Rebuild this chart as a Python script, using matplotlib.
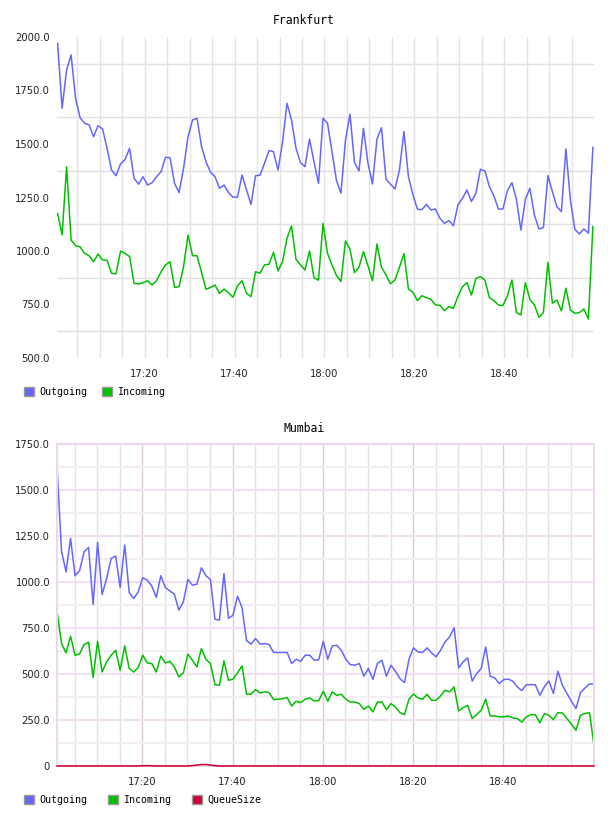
import matplotlib
matplotlib.use('Agg')
import pandas as pd
from matplotlib import pyplot as plt
import matplotlib.dates as mdates
from matplotlib.patches import Patch
from matplotlib.ticker import MultipleLocator, FuncFormatter


# one sample per minute
frankfurt_out = [1970, 1667, 1846, 1916, 1713, 1623, 1597, 1589, 1534, 1586,
                 1570, 1480, 1378, 1352, 1407, 1428, 1480, 1340, 1312, 1347,
                 1308, 1319, 1347, 1371, 1438, 1436, 1316, 1273, 1386, 1534,
                 1612, 1620, 1488, 1417, 1368, 1347, 1293, 1308, 1273, 1251,
                 1252, 1355, 1285, 1218, 1352, 1354, 1410, 1469, 1464, 1378,
                 1508, 1690, 1612, 1480, 1413, 1394, 1523, 1417, 1316, 1620,
                 1597, 1464, 1329, 1270, 1519, 1639, 1414, 1374, 1573, 1410,
                 1313, 1523, 1576, 1336, 1312, 1290, 1379, 1558, 1347, 1262,
                 1195, 1193, 1218, 1192, 1196, 1153, 1129, 1142, 1118, 1215,
                 1246, 1285, 1231, 1270, 1382, 1374, 1301, 1257, 1196, 1196,
                 1282, 1319, 1243, 1098, 1243, 1293, 1168, 1103, 1109, 1352,
                 1277, 1207, 1184, 1477, 1238, 1101, 1080, 1103, 1083, 1484]

frankfurt_in = [1176, 1075, 1394, 1051, 1025, 1019, 989, 978, 950, 986,
                958, 956, 896, 893, 1000, 989, 974, 849, 846, 852,
                861, 841, 861, 903, 935, 950, 830, 833, 927, 1075,
                978, 978, 900, 821, 830, 841, 802, 822, 805, 784,
                838, 861, 802, 787, 903, 896, 935, 938, 994, 907,
                950, 1059, 1117, 961, 935, 911, 1000, 875, 864, 1129,
                989, 935, 885, 857, 1047, 1008, 899, 924, 997, 931,
                861, 1033, 924, 888, 847, 864, 924, 988, 822, 807,
                768, 791, 782, 774, 748, 746, 721, 740, 732, 787,
                833, 852, 794, 872, 880, 864, 782, 768, 748, 745,
                791, 864, 712, 701, 852, 774, 748, 690, 712, 947,
                756, 771, 720, 826, 724, 709, 712, 729, 682, 1114]

mumbai_out = [1630, 1168, 1055, 1237, 1034, 1061, 1164, 1188, 878, 1215,
              932, 1019, 1128, 1141, 970, 1201, 943, 910, 947, 1023,
              1010, 979, 916, 1034, 970, 952, 934, 847, 892, 1014,
              983, 988, 1077, 1034, 1014, 798, 793, 1046, 802, 820,
              923, 861, 682, 662, 693, 662, 666, 660, 617, 617,
              617, 617, 557, 580, 569, 602, 602, 575, 577, 678,
              580, 653, 656, 629, 580, 551, 548, 557, 488, 530,
              471, 557, 575, 488, 548, 515, 475, 453, 580, 642,
              620, 617, 642, 615, 593, 629, 675, 702, 751, 533,
              566, 588, 461, 502, 530, 647, 488, 479, 448, 470,
              472, 461, 430, 410, 442, 442, 442, 384, 430, 462,
              394, 515, 439, 394, 352, 312, 399, 424, 446, 444]

mumbai_in = [841, 666, 615, 705, 602, 609, 660, 673, 481, 678,
             511, 566, 602, 629, 520, 653, 530, 511, 535, 602,
             560, 557, 511, 597, 560, 569, 539, 484, 506, 608,
             575, 539, 638, 580, 557, 442, 439, 571, 466, 472,
             506, 544, 390, 390, 415, 397, 403, 399, 361, 363,
             366, 372, 326, 352, 345, 363, 370, 354, 355, 406,
             352, 403, 384, 390, 363, 348, 348, 339, 308, 326,
             294, 348, 348, 306, 339, 321, 290, 279, 363, 390,
             370, 363, 390, 357, 357, 381, 412, 403, 430, 299,
             317, 330, 258, 279, 303, 363, 272, 272, 267, 267,
             272, 261, 258, 239, 267, 279, 279, 234, 285, 276,
             252, 290, 288, 258, 227, 194, 276, 285, 290, 112]

mumbai_queue = [0, 0, 0, 0, 0, 0, 0, 0, 0, 0, 0, 0, 0, 0, 0, 0, 0, 0, 0, 1,
                2, 1, 0, 0, 0, 0, 0, 0, 0, 0, 2, 5, 8, 8, 5, 2, 0, 0, 0, 0,
                0, 0, 0, 0, 0, 0, 0, 0, 0, 0, 0, 0, 0, 0, 0, 0, 0, 0, 0, 0,
                0, 0, 0, 0, 0, 0, 0, 0, 0, 0, 0, 0, 0, 0, 0, 0, 0, 0, 0, 0,
                0, 0, 0, 0, 0, 0, 0, 0, 0, 0, 0, 0, 0, 0, 0, 0, 0, 0, 0, 0,
                0, 0, 0, 0, 0, 0, 0, 0, 0, 0, 0, 0, 0, 0, 0, 0, 0, 0, 0, 0]

frankfurt_start = '2013-05-06 17:00:40'
mumbai_start = '2013-05-06 17:01:05'

OUT_COLOR = '#6666ff'
IN_COLOR = '#00c000'
QUEUE_COLOR = '#cc0033'
W, H = 608, 816


def fmt_value(v, pos):
    return '0' if v == 0 else '%.1f' % v


#time labels, but none right at the end of the axis
def time_formatter(ax):
    def fmt(v, pos):
        if v > ax.get_xlim()[1] - 1.5 / 1440:
            return ''
        return mdates.num2date(v).strftime('%H:%M')
    return FuncFormatter(fmt)


#common look of both panels
def style_axis(ax, ymin, ymax):
    ax.set_ylim(ymin, ymax)
    ax.yaxis.set_major_locator(MultipleLocator(250))
    ax.yaxis.set_minor_locator(MultipleLocator(250, offset=125))
    ax.yaxis.set_major_formatter(FuncFormatter(fmt_value))
    ax.xaxis.set_major_locator(mdates.MinuteLocator(byminute=[0, 20, 40]))
    ax.xaxis.set_minor_locator(mdates.MinuteLocator(byminute=range(0, 60, 5)))
    ax.xaxis.set_major_formatter(time_formatter(ax))
    ax.tick_params(which='both', length=0, labelsize=7.2, labelcolor='#222222')
    ax.tick_params(axis='y', pad=5)
    ax.tick_params(axis='x', pad=8)
    ax.set_axisbelow(True)


def add_legend(fig, ax, names, colors, ypix, spacing):
    handles = [Patch(facecolor=c, edgecolor='#999999', linewidth=1, label=n)
               for n, c in zip(names, colors)]
    ax.legend(handles=handles, loc='center left',
              bbox_to_anchor=(24 / W, 1 - ypix / H), bbox_transform=fig.transFigure,
              ncol=len(handles), frameon=False,
              prop={'family': 'DejaVu Sans Mono', 'size': 7.2},
              handlelength=1.0, handleheight=1.0, handletextpad=0.5,
              columnspacing=spacing, borderaxespad=0, borderpad=0)


fig = plt.figure(figsize=(W / 100, H / 100), dpi=100)

# Frankfurt
t1 = pd.date_range(frankfurt_start, periods=len(frankfurt_out), freq='min')
ax1 = fig.add_axes([57 / W, 1 - 358 / H, (594 - 57) / W, (358 - 37) / H])
ax1.plot(t1, frankfurt_out, color=OUT_COLOR, lw=1.1)
ax1.plot(t1, frankfurt_in, color=IN_COLOR, lw=1.1)
style_axis(ax1, 500, 2000)
ax1.set_xlim(t1[0] - pd.Timedelta(seconds=8), t1[-1] + pd.Timedelta(seconds=15))
ax1.grid(True, axis='y', which='minor', color='#e0e0e0', lw=1)
ax1.grid(True, axis='x', which='both', color='#e4e4e4', lw=1)
for s in ax1.spines.values():
    s.set_visible(False)
fig.text(304 / W, 1 - 20 / H, 'Frankfurt', ha='center', va='center',
         family='DejaVu Sans Mono', size=8.3)
add_legend(fig, ax1, ['Outgoing', 'Incoming'], [OUT_COLOR, IN_COLOR], 392, 1.5)

# Mumbai
t2 = pd.date_range(mumbai_start, periods=len(mumbai_out), freq='min')
ax2 = fig.add_axes([57 / W, 1 - 766 / H, (594 - 57) / W, (766 - 444) / H])
ax2.plot(t2, mumbai_out, color=OUT_COLOR, lw=1.1)
ax2.plot(t2, mumbai_in, color=IN_COLOR, lw=1.1)
ax2.plot(t2, mumbai_queue, color=QUEUE_COLOR, lw=1.1, clip_on=False, zorder=4)
style_axis(ax2, 0, 1750)
ax2.set_xlim(t2[0], t2[-1])
ax2.grid(True, axis='y', which='major', color='#f0e2f0', lw=1.6)
ax2.grid(True, axis='y', which='minor', color='#f2eef2', lw=1.6)
ax2.grid(True, axis='x', which='major', color='#dccadc', lw=1)
ax2.grid(True, axis='x', which='minor', color='#e6e2e6', lw=1)
for s in ax2.spines.values():
    s.set_color('#ecd8ec')
    s.set_linewidth(1.5)
fig.text(304 / W, 1 - 429 / H, 'Mumbai', ha='center', va='center',
         family='DejaVu Sans Mono', size=8.3)
add_legend(fig, ax2, ['Outgoing', 'Incoming', 'QueueSize'],
           [OUT_COLOR, IN_COLOR, QUEUE_COLOR], 800, 2.1)

fig.savefig('out.png', dpi=100)
